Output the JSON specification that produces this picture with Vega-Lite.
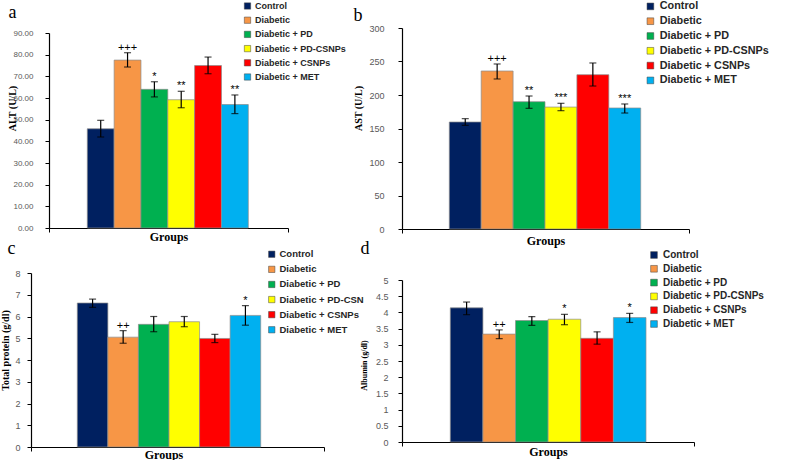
{
  "$schema": "https://vega.github.io/schema/vega-lite/v6.json",
  "padding": {"left": 0, "top": 1, "right": 0, "bottom": 0},
  "background": "white",
  "config": {
    "view": {"stroke": null},
    "axis": {"grid": false, "domainColor": "#000000", "domainWidth": 1.2, "tickColor": "#000000", "tickWidth": 1, "tickSize": 4, "labelOverlap": false},
    "legend": {"offset": 0}
  },
  "datasets": {
    "alt": [
      {"category": "Groups", "group": "Control", "mean": 45.8, "lo": 42.0, "hi": 49.7, "sig": ""},
      {"category": "Groups", "group": "Diabetic", "mean": 77.5, "lo": 74.3, "hi": 80.9, "sig": "+++"},
      {"category": "Groups", "group": "Diabetic + PD", "mean": 64.0, "lo": 60.5, "hi": 67.5, "sig": "*"},
      {"category": "Groups", "group": "Diabetic + PD-CSNPs", "mean": 59.2, "lo": 55.5, "hi": 63.1, "sig": "**"},
      {"category": "Groups", "group": "Diabetic + CSNPs", "mean": 75.0, "lo": 71.2, "hi": 78.9, "sig": ""},
      {"category": "Groups", "group": "Diabetic + MET", "mean": 57.0, "lo": 52.8, "hi": 61.4, "sig": "**"}
    ],
    "ast": [
      {"category": "Groups", "group": "Control", "mean": 159.7, "lo": 154.7, "hi": 164.7, "sig": ""},
      {"category": "Groups", "group": "Diabetic", "mean": 235.8, "lo": 223.9, "hi": 246.3, "sig": "+++"},
      {"category": "Groups", "group": "Diabetic + PD", "mean": 190.0, "lo": 180.1, "hi": 198.5, "sig": "**"},
      {"category": "Groups", "group": "Diabetic + PD-CSNPs", "mean": 182.0, "lo": 176.6, "hi": 187.6, "sig": "***"},
      {"category": "Groups", "group": "Diabetic + CSNPs", "mean": 230.3, "lo": 213.4, "hi": 247.8, "sig": ""},
      {"category": "Groups", "group": "Diabetic + MET", "mean": 180.6, "lo": 173.1, "hi": 186.6, "sig": "***"}
    ],
    "tp": [
      {"category": "Groups", "group": "Control", "mean": 6.62, "lo": 6.42, "hi": 6.80, "sig": ""},
      {"category": "Groups", "group": "Diabetic", "mean": 5.05, "lo": 4.77, "hi": 5.35, "sig": "++"},
      {"category": "Groups", "group": "Diabetic + PD", "mean": 5.64, "lo": 5.30, "hi": 6.00, "sig": ""},
      {"category": "Groups", "group": "Diabetic + PD-CSNPs", "mean": 5.76, "lo": 5.53, "hi": 6.00, "sig": ""},
      {"category": "Groups", "group": "Diabetic + CSNPs", "mean": 4.99, "lo": 4.80, "hi": 5.18, "sig": ""},
      {"category": "Groups", "group": "Diabetic + MET", "mean": 6.05, "lo": 5.60, "hi": 6.50, "sig": "*"}
    ],
    "alb": [
      {"category": "Groups", "group": "Control", "mean": 4.14, "lo": 3.93, "hi": 4.32, "sig": ""},
      {"category": "Groups", "group": "Diabetic", "mean": 3.33, "lo": 3.19, "hi": 3.46, "sig": "++"},
      {"category": "Groups", "group": "Diabetic + PD", "mean": 3.75, "lo": 3.60, "hi": 3.87, "sig": ""},
      {"category": "Groups", "group": "Diabetic + PD-CSNPs", "mean": 3.79, "lo": 3.62, "hi": 3.94, "sig": "*"},
      {"category": "Groups", "group": "Diabetic + CSNPs", "mean": 3.20, "lo": 3.02, "hi": 3.40, "sig": ""},
      {"category": "Groups", "group": "Diabetic + MET", "mean": 3.84, "lo": 3.69, "hi": 3.97, "sig": "*"}
    ]
  },
  "columns": 2,
  "align": "none",
  "bounds": "flush",
  "spacing": {"row": 44, "column": 76},
  "resolve": {
    "scale": {"color": "independent", "x": "independent", "y": "independent", "xOffset": "independent"},
    "legend": {"color": "independent"},
    "axis": {"x": "independent", "y": "independent"}
  },
  "concat": [
    {
      "width": 295, "height": 201,
      "data": {"name": "alt"},
      "resolve": {"axis": {"x": "independent"}},
      "encoding": {
        "x": {"field": "category", "type": "nominal", "scale": {"range": [18, 257], "paddingInner": 0, "paddingOuter": 0}, "axis": null},
        "xOffset": {"field": "group", "type": "nominal", "sort": ["Control", "Diabetic", "Diabetic + PD", "Diabetic + PD-CSNPs", "Diabetic + CSNPs", "Diabetic + MET"],
          "scale": {"paddingInner": 0, "paddingOuter": 0, "range": [38.3, 199.3]}},
        "color": {"field": "group", "type": "nominal",
          "scale": {"domain": ["Control", "Diabetic", "Diabetic + PD", "Diabetic + PD-CSNPs", "Diabetic + CSNPs", "Diabetic + MET"], "range": ["#002060", "#F79646", "#00B050", "#FFFF00", "#FF0000", "#00B0F0"]},
          "legend": {"orient": "none", "legendX": 212, "legendY": -26.5, "offset": 0, "title": null, "padding": 0, "symbolType": "square", "symbolSize": 40, "symbolStrokeColor": "#404040", "symbolStrokeWidth": 0.5, "labelFont": "Liberation Sans", "labelFontWeight": "bold", "labelFontSize": 9, "labelColor": "#262626", "rowPadding": 4.2, "labelOffset": 3}}
      },
      "layer": [
        {"mark": {"type": "bar", "stroke": "#8c8c8c", "strokeWidth": 0.7},
          "encoding": {
            "x": {"field": "category", "type": "nominal", "scale": {"range": [18, 257], "paddingInner": 0, "paddingOuter": 0},
              "axis": {"orient": "bottom", "title": null, "offset": -1, "tickBand": "extent", "labelAngle": 0, "labelFont": "Liberation Serif", "labelFontWeight": "bold", "labelFontSize": 12, "labelColor": "#000000", "labelPadding": -1}},
            "y": {"field": "mean", "type": "quantitative", "scale": {"domain": [0, 90], "range": [200, 5], "nice": false},
            "axis": {"values": [0, 10, 20, 30, 40, 50, 60, 70, 80, 90], "format": ".2f", "offset": -18, "labelOverlap": false, "labelFont": "Liberation Sans", "labelFontSize": 8, "labelColor": "#595959", "labelPadding": 12, "title": "ALT (U/L)", "titleFont": "Liberation Serif", "titleFontWeight": "bold", "titleFontSize": 10, "titleColor": "#000000", "titleX": -32, "titleY": 80}}}},
        {"mark": {"type": "rule", "strokeWidth": 1.2}, "encoding": {
            "x": {"field": "category", "type": "nominal", "scale": {"range": [18, 257], "paddingInner": 0, "paddingOuter": 0},
              "axis": {"orient": "top", "domain": false, "ticks": false, "labels": false, "title": "a", "titleFont": "Liberation Serif", "titleFontSize": 18, "titleFontWeight": "normal", "titleColor": "#000000", "titleAngle": 0, "titleAlign": "left", "titleBaseline": "alphabetic", "titleX": -23, "titleY": -11}},
            "y": {"field": "lo", "type": "quantitative",
            "axis": {"values": [0, 10, 20, 30, 40, 50, 60, 70, 80, 90], "format": ".2f", "offset": -18, "labelOverlap": false, "labelFont": "Liberation Sans", "labelFontSize": 8, "labelColor": "#595959", "labelPadding": 12, "title": "ALT (U/L)", "titleFont": "Liberation Serif", "titleFontWeight": "bold", "titleFontSize": 10, "titleColor": "#000000", "titleX": -32, "titleY": 80}},
          "y2": {"field": "hi"}, "color": {"value": "#000000"}}},
        {"mark": {"type": "tick", "size": 7, "thickness": 1.2}, "encoding": {"y": {"field": "lo", "type": "quantitative",
            "axis": {"values": [0, 10, 20, 30, 40, 50, 60, 70, 80, 90], "format": ".2f", "offset": -18, "labelOverlap": false, "labelFont": "Liberation Sans", "labelFontSize": 8, "labelColor": "#595959", "labelPadding": 12, "title": "ALT (U/L)", "titleFont": "Liberation Serif", "titleFontWeight": "bold", "titleFontSize": 10, "titleColor": "#000000", "titleX": -32, "titleY": 80}},
          "color": {"value": "#000000"}}},
        {"mark": {"type": "tick", "size": 7, "thickness": 1.2}, "encoding": {"y": {"field": "hi", "type": "quantitative",
            "axis": {"values": [0, 10, 20, 30, 40, 50, 60, 70, 80, 90], "format": ".2f", "offset": -18, "labelOverlap": false, "labelFont": "Liberation Sans", "labelFontSize": 8, "labelColor": "#595959", "labelPadding": 12, "title": "ALT (U/L)", "titleFont": "Liberation Serif", "titleFontWeight": "bold", "titleFontSize": 10, "titleColor": "#000000", "titleX": -32, "titleY": 80}},
          "color": {"value": "#000000"}}},
        {"mark": {"type": "text", "baseline": "bottom", "dy": 0, "font": "Liberation Sans", "fontSize": 11}, "encoding": {"y": {"field": "hi", "type": "quantitative",
            "axis": {"values": [0, 10, 20, 30, 40, 50, 60, 70, 80, 90], "format": ".2f", "offset": -18, "labelOverlap": false, "labelFont": "Liberation Sans", "labelFontSize": 8, "labelColor": "#595959", "labelPadding": 12, "title": "ALT (U/L)", "titleFont": "Liberation Serif", "titleFontWeight": "bold", "titleFontSize": 10, "titleColor": "#000000", "titleX": -32, "titleY": 80}},
          "text": {"field": "sig"}, "color": {"value": "#000000"}}}
      ]
    },
    {
      "width": 287, "height": 201,
      "data": {"name": "ast"},
      "resolve": {"axis": {"x": "independent"}},
      "encoding": {
        "x": {"field": "category", "type": "nominal", "scale": {"paddingInner": 0, "paddingOuter": 0}, "axis": null},
        "xOffset": {"field": "group", "type": "nominal", "sort": ["Control", "Diabetic", "Diabetic + PD", "Diabetic + PD-CSNPs", "Diabetic + CSNPs", "Diabetic + MET"],
          "scale": {"paddingInner": 0, "paddingOuter": 0, "range": [47.3, 238.7]}},
        "color": {"field": "group", "type": "nominal",
          "scale": {"domain": ["Control", "Diabetic", "Diabetic + PD", "Diabetic + PD-CSNPs", "Diabetic + CSNPs", "Diabetic + MET"], "range": ["#002060", "#F79646", "#00B050", "#FFFF00", "#FF0000", "#00B0F0"]},
          "legend": {"orient": "none", "legendX": 243, "legendY": -27, "offset": 0, "title": null, "padding": 0, "symbolType": "square", "symbolSize": 45, "symbolStrokeColor": "#404040", "symbolStrokeWidth": 0.5, "labelFont": "Liberation Sans", "labelFontWeight": "bold", "labelFontSize": 10.8, "labelColor": "#262626", "rowPadding": 2.8, "labelOffset": 4}}
      },
      "layer": [
        {"mark": {"type": "bar", "stroke": "#8c8c8c", "strokeWidth": 0.7},
          "encoding": {
            "x": {"field": "category", "type": "nominal", "scale": {"paddingInner": 0, "paddingOuter": 0},
              "axis": {"orient": "bottom", "title": null, "tickBand": "extent", "labelAngle": 0, "labelFont": "Liberation Serif", "labelFontWeight": "bold", "labelFontSize": 12, "labelColor": "#000000", "labelPadding": 2}},
            "y": {"field": "mean", "type": "quantitative", "scale": {"domain": [0, 300], "nice": false},
            "axis": {"values": [0, 50, 100, 150, 200, 250, 300], "format": "d", "labelOverlap": false, "labelFont": "Liberation Sans", "labelFontSize": 9, "labelColor": "#595959", "labelPadding": 14, "title": "AST (U/L)", "titleFont": "Liberation Serif", "titleFontWeight": "bold", "titleFontSize": 10, "titleColor": "#000000", "titleX": -39, "titleY": 80}}}},
        {"mark": {"type": "rule", "strokeWidth": 1.2}, "encoding": {
            "x": {"field": "category", "type": "nominal", "scale": {"paddingInner": 0, "paddingOuter": 0},
              "axis": {"orient": "top", "domain": false, "ticks": false, "labels": false, "title": "b", "titleFont": "Liberation Serif", "titleFontSize": 18, "titleFontWeight": "normal", "titleColor": "#000000", "titleAngle": 0, "titleAlign": "left", "titleBaseline": "alphabetic", "titleX": -49, "titleY": -8}},
            "y": {"field": "lo", "type": "quantitative",
            "axis": {"values": [0, 50, 100, 150, 200, 250, 300], "format": "d", "labelOverlap": false, "labelFont": "Liberation Sans", "labelFontSize": 9, "labelColor": "#595959", "labelPadding": 14, "title": "AST (U/L)", "titleFont": "Liberation Serif", "titleFontWeight": "bold", "titleFontSize": 10, "titleColor": "#000000", "titleX": -39, "titleY": 80}},
          "y2": {"field": "hi"}, "color": {"value": "#000000"}}},
        {"mark": {"type": "tick", "size": 7, "thickness": 1.2}, "encoding": {"y": {"field": "lo", "type": "quantitative",
            "axis": {"values": [0, 50, 100, 150, 200, 250, 300], "format": "d", "labelOverlap": false, "labelFont": "Liberation Sans", "labelFontSize": 9, "labelColor": "#595959", "labelPadding": 14, "title": "AST (U/L)", "titleFont": "Liberation Serif", "titleFontWeight": "bold", "titleFontSize": 10, "titleColor": "#000000", "titleX": -39, "titleY": 80}},
          "color": {"value": "#000000"}}},
        {"mark": {"type": "tick", "size": 7, "thickness": 1.2}, "encoding": {"y": {"field": "hi", "type": "quantitative",
            "axis": {"values": [0, 50, 100, 150, 200, 250, 300], "format": "d", "labelOverlap": false, "labelFont": "Liberation Sans", "labelFontSize": 9, "labelColor": "#595959", "labelPadding": 14, "title": "AST (U/L)", "titleFont": "Liberation Serif", "titleFontWeight": "bold", "titleFontSize": 10, "titleColor": "#000000", "titleX": -39, "titleY": 80}},
          "color": {"value": "#000000"}}},
        {"mark": {"type": "text", "baseline": "bottom", "dy": 0, "font": "Liberation Sans", "fontSize": 11}, "encoding": {"y": {"field": "hi", "type": "quantitative",
            "axis": {"values": [0, 50, 100, 150, 200, 250, 300], "format": "d", "labelOverlap": false, "labelFont": "Liberation Sans", "labelFontSize": 9, "labelColor": "#595959", "labelPadding": 14, "title": "AST (U/L)", "titleFont": "Liberation Serif", "titleFontWeight": "bold", "titleFontSize": 10, "titleColor": "#000000", "titleX": -39, "titleY": 80}},
          "text": {"field": "sig"}, "color": {"value": "#000000"}}}
      ]
    },
    {
      "width": 293, "height": 174,
      "data": {"name": "tp"},
      "resolve": {"axis": {"x": "independent"}},
      "encoding": {
        "x": {"field": "category", "type": "nominal", "scale": {"paddingInner": 0, "paddingOuter": 0}, "axis": null},
        "xOffset": {"field": "group", "type": "nominal", "sort": ["Control", "Diabetic", "Diabetic + PD", "Diabetic + PD-CSNPs", "Diabetic + CSNPs", "Diabetic + MET"],
          "scale": {"paddingInner": 0, "paddingOuter": 0, "range": [46.3, 229.7]}},
        "color": {"field": "group", "type": "nominal",
          "scale": {"domain": ["Control", "Diabetic", "Diabetic + PD", "Diabetic + PD-CSNPs", "Diabetic + CSNPs", "Diabetic + MET"], "range": ["#002060", "#F79646", "#00B050", "#FFFF00", "#FF0000", "#00B0F0"]},
          "legend": {"orient": "none", "legendX": 236, "legendY": -23.5, "offset": 0, "title": null, "padding": 0, "symbolType": "square", "symbolSize": 40, "symbolStrokeColor": "#404040", "symbolStrokeWidth": 0.5, "labelFont": "Liberation Sans", "labelFontWeight": "bold", "labelFontSize": 9.5, "labelColor": "#262626", "rowPadding": 4.1, "labelOffset": 3,
            "labelExpr": "datum.label == 'Diabetic + PD-CSNPs' ? 'Diabetic + PD-CSN' : datum.label"}}
      },
      "layer": [
        {"mark": {"type": "bar", "stroke": "#8c8c8c", "strokeWidth": 0.7},
          "encoding": {
            "x": {"field": "category", "type": "nominal", "scale": {"paddingInner": 0, "paddingOuter": 0},
              "axis": {"orient": "bottom", "title": null, "tickBand": "extent", "labelAngle": 0, "labelOffset": -14, "labelFont": "Liberation Serif", "labelFontWeight": "bold", "labelFontSize": 12, "labelColor": "#000000", "labelPadding": -2}},
            "y": {"field": "mean", "type": "quantitative", "scale": {"domain": [0, 8], "nice": false},
            "axis": {"values": [0, 1, 2, 3, 4, 5, 6, 7, 8], "format": "d", "labelOverlap": false, "labelFont": "Liberation Sans", "labelFontSize": 9, "labelColor": "#595959", "labelPadding": 7, "title": "Total protein (g/dl)", "titleFont": "Liberation Serif", "titleFontWeight": "bold", "titleFontSize": 10, "titleColor": "#000000", "titleX": -21, "titleY": 77}}}},
        {"mark": {"type": "rule", "strokeWidth": 1.2}, "encoding": {
            "x": {"field": "category", "type": "nominal", "scale": {"paddingInner": 0, "paddingOuter": 0},
              "axis": {"orient": "top", "domain": false, "ticks": false, "labels": false, "title": "c", "titleFont": "Liberation Serif", "titleFontSize": 18, "titleFontWeight": "normal", "titleColor": "#000000", "titleAngle": 0, "titleAlign": "left", "titleBaseline": "alphabetic", "titleX": -24, "titleY": -20}},
            "y": {"field": "lo", "type": "quantitative",
            "axis": {"values": [0, 1, 2, 3, 4, 5, 6, 7, 8], "format": "d", "labelOverlap": false, "labelFont": "Liberation Sans", "labelFontSize": 9, "labelColor": "#595959", "labelPadding": 7, "title": "Total protein (g/dl)", "titleFont": "Liberation Serif", "titleFontWeight": "bold", "titleFontSize": 10, "titleColor": "#000000", "titleX": -21, "titleY": 77}},
          "y2": {"field": "hi"}, "color": {"value": "#000000"}}},
        {"mark": {"type": "tick", "size": 7, "thickness": 1.2}, "encoding": {"y": {"field": "lo", "type": "quantitative",
            "axis": {"values": [0, 1, 2, 3, 4, 5, 6, 7, 8], "format": "d", "labelOverlap": false, "labelFont": "Liberation Sans", "labelFontSize": 9, "labelColor": "#595959", "labelPadding": 7, "title": "Total protein (g/dl)", "titleFont": "Liberation Serif", "titleFontWeight": "bold", "titleFontSize": 10, "titleColor": "#000000", "titleX": -21, "titleY": 77}},
          "color": {"value": "#000000"}}},
        {"mark": {"type": "tick", "size": 7, "thickness": 1.2}, "encoding": {"y": {"field": "hi", "type": "quantitative",
            "axis": {"values": [0, 1, 2, 3, 4, 5, 6, 7, 8], "format": "d", "labelOverlap": false, "labelFont": "Liberation Sans", "labelFontSize": 9, "labelColor": "#595959", "labelPadding": 7, "title": "Total protein (g/dl)", "titleFont": "Liberation Serif", "titleFontWeight": "bold", "titleFontSize": 10, "titleColor": "#000000", "titleX": -21, "titleY": 77}},
          "color": {"value": "#000000"}}},
        {"mark": {"type": "text", "baseline": "bottom", "dy": 0, "font": "Liberation Sans", "fontSize": 11}, "encoding": {"y": {"field": "hi", "type": "quantitative",
            "axis": {"values": [0, 1, 2, 3, 4, 5, 6, 7, 8], "format": "d", "labelOverlap": false, "labelFont": "Liberation Sans", "labelFontSize": 9, "labelColor": "#595959", "labelPadding": 7, "title": "Total protein (g/dl)", "titleFont": "Liberation Serif", "titleFontWeight": "bold", "titleFontSize": 10, "titleColor": "#000000", "titleX": -21, "titleY": 77}},
          "text": {"field": "sig"}, "color": {"value": "#000000"}}}
      ]
    },
    {
      "width": 292, "height": 169,
      "data": {"name": "alb"},
      "resolve": {"axis": {"x": "independent"}},
      "encoding": {
        "x": {"field": "category", "type": "nominal", "scale": {"paddingInner": 0, "paddingOuter": 0}, "axis": null},
        "xOffset": {"field": "group", "type": "nominal", "sort": ["Control", "Diabetic", "Diabetic + PD", "Diabetic + PD-CSNPs", "Diabetic + CSNPs", "Diabetic + MET"],
          "scale": {"paddingInner": 0, "paddingOuter": 0, "range": [48.3, 244]}},
        "color": {"field": "group", "type": "nominal",
          "scale": {"domain": ["Control", "Diabetic", "Diabetic + PD", "Diabetic + PD-CSNPs", "Diabetic + CSNPs", "Diabetic + MET"], "range": ["#002060", "#F79646", "#00B050", "#FFFF00", "#FF0000", "#00B0F0"]},
          "legend": {"orient": "none", "legendX": 247, "legendY": -23, "offset": 0, "title": null, "padding": 0, "symbolType": "square", "symbolSize": 45, "symbolStrokeColor": "#404040", "symbolStrokeWidth": 0.5, "labelFont": "Liberation Sans", "labelFontWeight": "bold", "labelFontSize": 10, "labelColor": "#262626", "rowPadding": 3.8, "labelOffset": 4}}
      },
      "layer": [
        {"mark": {"type": "bar", "stroke": "#8c8c8c", "strokeWidth": 0.7},
          "encoding": {
            "x": {"field": "category", "type": "nominal", "scale": {"paddingInner": 0, "paddingOuter": 0},
              "axis": {"orient": "bottom", "title": null, "tickBand": "extent", "labelAngle": 0, "labelFont": "Liberation Serif", "labelFontWeight": "bold", "labelFontSize": 12, "labelColor": "#000000", "labelPadding": 0}},
            "y": {"field": "mean", "type": "quantitative", "scale": {"domain": [0, 5], "range": [169, 7], "nice": false},
            "axis": {"values": [0, 0.5, 1, 1.5, 2, 2.5, 3, 3.5, 4, 4.5, 5], "format": "~g", "labelOverlap": false, "labelFont": "Liberation Sans", "labelFontSize": 9, "labelColor": "#595959", "labelPadding": 10, "title": "Albumin (g/dl)", "titleFont": "Liberation Serif", "titleFontWeight": "bold", "titleFontSize": 8, "titleColor": "#000000", "titleX": -34, "titleY": 92}}}},
        {"mark": {"type": "rule", "strokeWidth": 1.2}, "encoding": {
            "x": {"field": "category", "type": "nominal", "scale": {"paddingInner": 0, "paddingOuter": 0},
              "axis": {"orient": "top", "domain": false, "ticks": false, "labels": false, "title": "d", "titleFont": "Liberation Serif", "titleFontSize": 18, "titleFontWeight": "normal", "titleColor": "#000000", "titleAngle": 0, "titleAlign": "left", "titleBaseline": "alphabetic", "titleX": -42, "titleY": -20}},
            "y": {"field": "lo", "type": "quantitative",
            "axis": {"values": [0, 0.5, 1, 1.5, 2, 2.5, 3, 3.5, 4, 4.5, 5], "format": "~g", "labelOverlap": false, "labelFont": "Liberation Sans", "labelFontSize": 9, "labelColor": "#595959", "labelPadding": 10, "title": "Albumin (g/dl)", "titleFont": "Liberation Serif", "titleFontWeight": "bold", "titleFontSize": 8, "titleColor": "#000000", "titleX": -34, "titleY": 92}},
          "y2": {"field": "hi"}, "color": {"value": "#000000"}}},
        {"mark": {"type": "tick", "size": 7, "thickness": 1.2}, "encoding": {"y": {"field": "lo", "type": "quantitative",
            "axis": {"values": [0, 0.5, 1, 1.5, 2, 2.5, 3, 3.5, 4, 4.5, 5], "format": "~g", "labelOverlap": false, "labelFont": "Liberation Sans", "labelFontSize": 9, "labelColor": "#595959", "labelPadding": 10, "title": "Albumin (g/dl)", "titleFont": "Liberation Serif", "titleFontWeight": "bold", "titleFontSize": 8, "titleColor": "#000000", "titleX": -34, "titleY": 92}},
          "color": {"value": "#000000"}}},
        {"mark": {"type": "tick", "size": 7, "thickness": 1.2}, "encoding": {"y": {"field": "hi", "type": "quantitative",
            "axis": {"values": [0, 0.5, 1, 1.5, 2, 2.5, 3, 3.5, 4, 4.5, 5], "format": "~g", "labelOverlap": false, "labelFont": "Liberation Sans", "labelFontSize": 9, "labelColor": "#595959", "labelPadding": 10, "title": "Albumin (g/dl)", "titleFont": "Liberation Serif", "titleFontWeight": "bold", "titleFontSize": 8, "titleColor": "#000000", "titleX": -34, "titleY": 92}},
          "color": {"value": "#000000"}}},
        {"mark": {"type": "text", "baseline": "bottom", "dy": 0, "font": "Liberation Sans", "fontSize": 11}, "encoding": {"y": {"field": "hi", "type": "quantitative",
            "axis": {"values": [0, 0.5, 1, 1.5, 2, 2.5, 3, 3.5, 4, 4.5, 5], "format": "~g", "labelOverlap": false, "labelFont": "Liberation Sans", "labelFontSize": 9, "labelColor": "#595959", "labelPadding": 10, "title": "Albumin (g/dl)", "titleFont": "Liberation Serif", "titleFontWeight": "bold", "titleFontSize": 8, "titleColor": "#000000", "titleX": -34, "titleY": 92}},
          "text": {"field": "sig"}, "color": {"value": "#000000"}}}
      ]
    }
  ]
}
